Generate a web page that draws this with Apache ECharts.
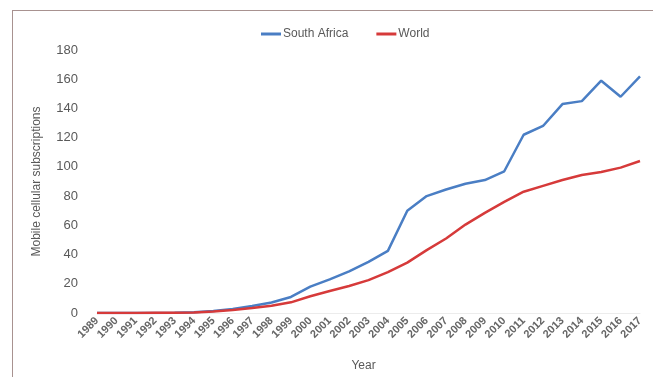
<!DOCTYPE html>
<html>
<head>
<meta charset="utf-8">
<script src="https://cdn.jsdelivr.net/npm/echarts@6/dist/echarts.min.js"></script>
<style>
  html, body { margin: 0; padding: 0; background: #fff; }
  #frame { position: absolute; left: 12px; top: 10px; width: 641px; height: 367px;
           border-left: 1.5px solid #a89290; border-top: 1.5px solid #a89290; box-sizing: border-box; }
  #chart { position: absolute; left: 0; top: 0; width: 653px; height: 377px; }
</style>
</head>
<body>
<div id="frame"></div>
<div id="chart"></div>
<script>
// Mobile cellular subscriptions per 100 people, 1989–2017
const years = ['1989','1990','1991','1992','1993','1994','1995','1996','1997','1998',
  '1999','2000','2001','2002','2003','2004','2005','2006','2007','2008',
  '2009','2010','2011','2012','2013','2014','2015','2016','2017'];
const southAfrica = [0, 0, 0, 0, 0.2, 0.5, 1.3, 2.7, 4.8, 7.2,
  11, 18, 23, 28.5, 35, 42.5, 70, 80, 84.5, 88.5,
  91, 97, 122, 128, 143, 145, 159, 148, 162];
const world = [0, 0, 0, 0.1, 0.2, 0.4, 1, 2, 3.4, 5,
  7.3, 11.5, 15, 18.5, 22.5, 28, 34.5, 43, 51, 60.5,
  68.5, 76, 83, 87, 91, 94.5, 96.5, 99.5, 104];
const yTicks = { min: 0, max: 180, interval: 20 };

const chart = echarts.init(document.getElementById('chart'), null, { renderer: 'canvas' });
chart.setOption({
  backgroundColor: 'transparent',
  animation: false,
  textStyle: { fontFamily: 'Liberation Sans, Arial, sans-serif' },
  legend: {
    top: 23, left: 256,
    itemWidth: 20, itemHeight: 3, itemGap: 28,
    icon: 'rect',
    textStyle: { fontSize: 12, color: '#595959', padding: [0, 0, 0, -3] },
    data: ['South Africa', 'World']
  },
  grid: { left: 97, right: 13, top: 50, bottom: 63, containLabel: false },
  xAxis: {
    type: 'category', data: years, boundaryGap: false,
    name: 'Year', nameLocation: 'middle', nameGap: 47,
    nameTextStyle: { fontSize: 12, color: '#595959', padding: [0, 10, 0, 0] },
    axisLine: { show: true, lineStyle: { color: '#ececec' } },
    axisTick: { show: false },
    axisLabel: { rotate: 45, interval: 0, fontSize: 11, fontWeight: 'bold', color: '#666666', margin: 6 }
  },
  yAxis: {
    type: 'value', min: yTicks.min, max: yTicks.max, interval: yTicks.interval,
    name: 'Mobile cellular subscriptions', nameLocation: 'middle', nameGap: 54,
    nameTextStyle: { fontSize: 12, color: '#595959' },
    axisLine: { show: false }, axisTick: { show: false },
    splitLine: { show: false },
    axisLabel: { fontSize: 13, color: '#595959', margin: 19 }
  },
  series: [
    { name: 'South Africa', type: 'line', data: southAfrica, symbol: 'none',
      color: '#4a7ec4', lineStyle: { width: 2.5, color: '#4a7ec4' } },
    { name: 'World', type: 'line', data: world, symbol: 'none',
      color: '#d63a3a', lineStyle: { width: 2.5, color: '#d63a3a' } }
  ]
});
</script>
</body>
</html>
